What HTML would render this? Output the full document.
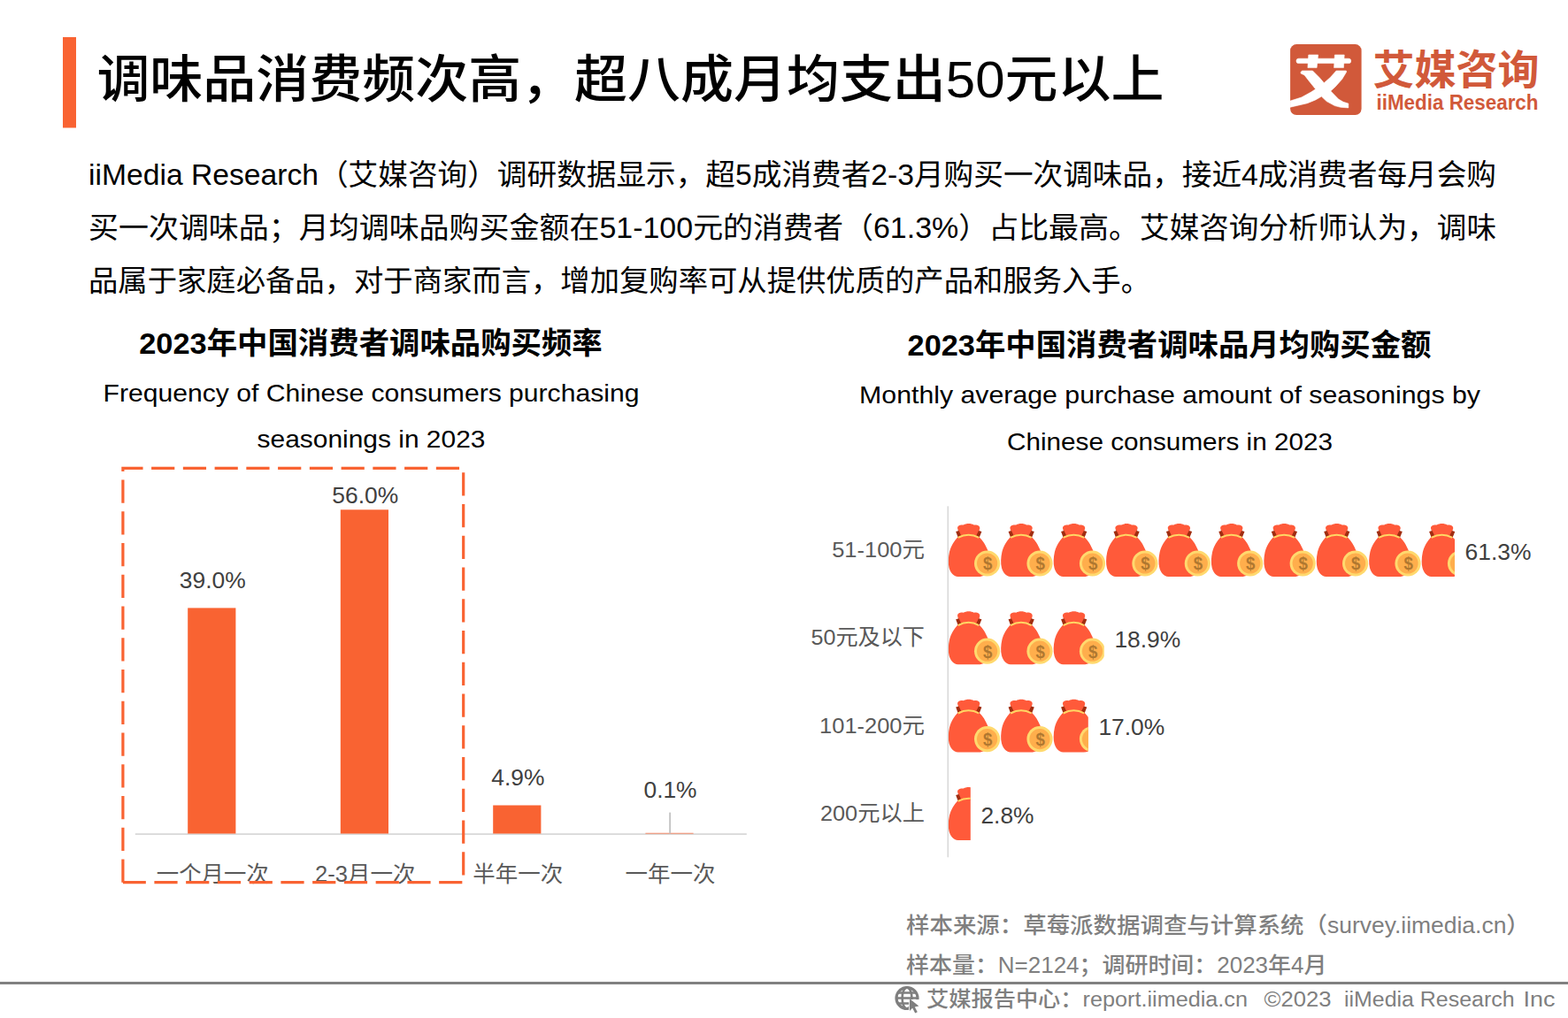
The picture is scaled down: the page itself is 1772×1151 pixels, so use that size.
<!DOCTYPE html>
<html lang="zh-CN"><head><meta charset="utf-8"><title>调味品消费频次高，超八成月均支出50元以上</title>
<style>
html,body{margin:0;padding:0;background:#fff}
body{width:1772px;height:1151px;position:relative;overflow:hidden;font-family:"Liberation Sans",sans-serif}
.t{position:absolute;margin:0;padding:0;white-space:nowrap;color:transparent;font-weight:normal;overflow:hidden;z-index:2}
svg text{font-family:"Liberation Sans","Noto Sans CJK SC",sans-serif}
</style></head><body>
<svg width="1772" height="1151" viewBox="0 0 1772 1151" style="position:absolute;left:0;top:0"><defs><g id="bag">
<path d="M10.3,5.2C9.9,2.4 13.8,0.8 17.1,1.6C19.8,-0.4 26.1,-0.4 28.7,1.6C31.9,0.8 35.9,2.4 35.5,5.2C35.2,8 33.3,10 32.9,14.5L13.1,14.5C12.6,10 10.6,8 10.3,5.2Z" fill="#FF5A3A"/>
<path d="M8.4,9 L11.8,8 L14.6,14 L10.8,15.6Z M37.6,9 L34.2,8 L31.2,14 L35,15.6Z" fill="#A02D10"/>
<path d="M22.8,12.2C28,12.2 32,12.8 34.8,15.2C38.6,18.6 42.2,24.5 44.4,30C46.6,36 47.5,46 45.6,52C43.8,57.6 39,60 34,60L10.8,60C5.6,59.6 2,55 0.8,50C-0.5,45 -0.2,38 1.2,32C2.8,25.5 6.6,19.4 10.6,15.2C13.4,12.8 17.4,12.2 22.8,12.2Z" fill="#FF5A3A"/>
<path d="M10.9,15.9Q22.8,9.4 34.5,15.9" fill="none" stroke="#FFD764" stroke-width="2"/>
<circle cx="43.8" cy="45" r="14.6" fill="#FFD96E"/>
<circle cx="43.8" cy="45" r="11.6" fill="#FFAE4C"/>
<text x="39.2" y="52.4" font-size="20" font-weight="bold" fill="#B07830" textLength="10.4" lengthAdjust="spacingAndGlyphs">$</text>
</g></defs><rect x="71" y="42" width="15" height="102.5" fill="#F96332"/><rect x="1458.1" y="50.1" width="80.5" height="79.9" rx="7" fill="#D1593A"/><g transform="translate(1458.1 50.1)" fill="#fff" stroke="#fff" stroke-width="0.6" stroke-linejoin="round">
<rect x="6.9" y="16.1" width="61.7" height="5.4" rx="2.6"/>
<path d="M20.7,11.9H31.5L30,26.5H19.8Z M50.3,11.9H61.1L60.3,26.5H49.5Z"/>
<path d="M11.9,31.3L13.6,29.9L25.3,29.9L32.8,37.4L38.2,43.6L45.3,37.4L52,29.9L63.2,29.9L63.6,31.1L58.6,39.4L51.1,47.8L45.7,52.8L54.5,62L60,65.2L65.7,67L65.7,71.8L57,71.2L50.3,69.5L41.1,64.5L35.3,59L28.6,62.8L19.4,66.6L0,71.1L0,64L12.8,59.9L23.6,54L28.6,50.7L20.3,40.3L16.1,34.9L11.9,32.8Z"/>
</g><rect x="152.8" y="942.2" width="691" height="1.8" fill="#D9D9D9"/><rect x="212.2" y="687.4" width="54.2" height="255.1" fill="#F96332"/><rect x="384.8" y="576.3" width="54.2" height="366.2" fill="#F96332"/><rect x="557.2" y="910.5" width="54.2" height="32.0" fill="#F96332"/><rect x="729.4" y="941.8" width="54.2" height="0.7" fill="#F96332"/><rect x="756.2" y="918.6" width="1.9" height="23.8" fill="#C4C4C4"/><rect x="1070.5" y="572.3" width="1.6" height="397" fill="#D9D9D9"/><rect x="0" y="1110" width="1772" height="3" fill="#808080"/><clipPath id="c0"><rect x="1071.8" y="591.0" width="572.2" height="62"/></clipPath><g clip-path="url(#c0)"><use href="#bag" x="1071.8" y="592.0"/><use href="#bag" x="1131.2" y="592.0"/><use href="#bag" x="1190.7" y="592.0"/><use href="#bag" x="1250.1" y="592.0"/><use href="#bag" x="1309.5" y="592.0"/><use href="#bag" x="1368.9" y="592.0"/><use href="#bag" x="1428.4" y="592.0"/><use href="#bag" x="1487.8" y="592.0"/><use href="#bag" x="1547.2" y="592.0"/><use href="#bag" x="1606.7" y="592.0"/></g><clipPath id="c1"><rect x="1071.8" y="690.2" width="176.0" height="62"/></clipPath><g clip-path="url(#c1)"><use href="#bag" x="1071.8" y="691.2"/><use href="#bag" x="1131.2" y="691.2"/><use href="#bag" x="1190.7" y="691.2"/></g><clipPath id="c2"><rect x="1071.8" y="789.6" width="158.0" height="62"/></clipPath><g clip-path="url(#c2)"><use href="#bag" x="1071.8" y="790.6"/><use href="#bag" x="1131.2" y="790.6"/><use href="#bag" x="1190.7" y="790.6"/></g><clipPath id="c3"><rect x="1071.8" y="889.0" width="25.0" height="62"/></clipPath><g clip-path="url(#c3)"><use href="#bag" x="1071.8" y="890.0"/></g>
<text x="109.4" y="110" font-size="58" font-weight="500" fill="#000" textLength="1206" lengthAdjust="spacingAndGlyphs">调味品消费频次高，超八成月均支出50元以上</text>
<text x="1551.4" y="95.2" font-size="46" font-weight="bold" fill="#D1593A" textLength="188" lengthAdjust="spacingAndGlyphs">艾媒咨询</text>
<text x="1555.5" y="123.5" font-size="23.5" font-weight="bold" fill="#D1593A" textLength="183" lengthAdjust="spacingAndGlyphs">iiMedia Research</text>
<text x="100" y="209" font-size="33" fill="#000" textLength="1591" lengthAdjust="spacingAndGlyphs">iiMedia Research（艾媒咨询）调研数据显示，超5成消费者2-3月购买一次调味品，接近4成消费者每月会购</text>
<text x="100" y="269" font-size="33" fill="#000" textLength="1187" lengthAdjust="spacingAndGlyphs">买一次调味品；月均调味品购买金额在51-100元的消费者（61.3%）占比最高。</text>
<text x="1288.1" y="269" font-size="33" fill="#000" textLength="402.9" lengthAdjust="spacingAndGlyphs">艾媒咨询分析师认为，调味</text>
<text x="100" y="329" font-size="33" fill="#000" textLength="1200" lengthAdjust="spacingAndGlyphs">品属于家庭必备品，对于商家而言，增加复购率可从提供优质的产品和服务入手。</text>
<text x="157.24" y="400" font-size="34" font-weight="bold" fill="#000" textLength="523.5" lengthAdjust="spacingAndGlyphs">2023年中国消费者调味品购买频率</text>
<text x="116.6" y="454" font-size="28.5" fill="#000" textLength="605.8" lengthAdjust="spacingAndGlyphs">Frequency of Chinese consumers purchasing</text>
<text x="290.56" y="506" font-size="28.5" fill="#000" textLength="257.9" lengthAdjust="spacingAndGlyphs">seasonings in 2023</text>
<text x="176.8" y="997" font-size="25" fill="#595959" textLength="127" lengthAdjust="spacingAndGlyphs">一个月一次</text>
<text x="356.03" y="997" font-size="25" fill="#595959" textLength="113.6" lengthAdjust="spacingAndGlyphs">2-3月一次</text>
<text x="534.35" y="997" font-size="25" fill="#595959" textLength="102" lengthAdjust="spacingAndGlyphs">半年一次</text>
<text x="706.5" y="997" font-size="25" fill="#595959" textLength="102" lengthAdjust="spacingAndGlyphs">一年一次</text>
<text x="202.84" y="665" font-size="26" fill="#404040" textLength="74.9" lengthAdjust="spacingAndGlyphs">39.0%</text>
<text x="375.39" y="569" font-size="26" fill="#404040" textLength="74.9" lengthAdjust="spacingAndGlyphs">56.0%</text>
<text x="555.32" y="888" font-size="26" fill="#404040" textLength="60.1" lengthAdjust="spacingAndGlyphs">4.9%</text>
<text x="727.47" y="902" font-size="26" fill="#404040" textLength="60.1" lengthAdjust="spacingAndGlyphs">0.1%</text>
<text x="1025.54" y="402" font-size="34" font-weight="bold" fill="#000" textLength="591.9" lengthAdjust="spacingAndGlyphs">2023年中国消费者调味品月均购买金额</text>
<text x="971.12" y="456" font-size="28.5" fill="#000" textLength="701.8" lengthAdjust="spacingAndGlyphs">Monthly average purchase amount of seasonings by</text>
<text x="1138.01" y="509" font-size="28.5" fill="#000" textLength="368" lengthAdjust="spacingAndGlyphs">Chinese consumers in 2023</text>
<text x="940.16" y="629.9" font-size="24.5" fill="#595959" textLength="104.8" lengthAdjust="spacingAndGlyphs">51-100元</text>
<text x="1655.6" y="632.5" font-size="26" fill="#404040" textLength="74.9" lengthAdjust="spacingAndGlyphs">61.3%</text>
<text x="916.47" y="729.3" font-size="24.5" fill="#595959" textLength="128.5" lengthAdjust="spacingAndGlyphs">50元及以下</text>
<text x="1259.4" y="731.7" font-size="26" fill="#404040" textLength="74.9" lengthAdjust="spacingAndGlyphs">18.9%</text>
<text x="926.09" y="828.7" font-size="24.5" fill="#595959" textLength="118.9" lengthAdjust="spacingAndGlyphs">101-200元</text>
<text x="1241.4" y="831.1" font-size="26" fill="#404040" textLength="74.9" lengthAdjust="spacingAndGlyphs">17.0%</text>
<text x="927" y="928.1" font-size="24.5" fill="#595959" textLength="118" lengthAdjust="spacingAndGlyphs">200元以上</text>
<text x="1108.4" y="930.5" font-size="26" fill="#404040" textLength="60.1" lengthAdjust="spacingAndGlyphs">2.8%</text>
<text x="1024" y="1054.5" font-size="25.5" font-weight="500" fill="#7F7F7F" textLength="704.8" lengthAdjust="spacingAndGlyphs">样本来源：草莓派数据调查与计算系统（survey.iimedia.cn）</text>
<text x="1024" y="1100.2" font-size="25.5" font-weight="500" fill="#7F7F7F" textLength="475.4" lengthAdjust="spacingAndGlyphs">样本量：N=2124；调研时间：2023年4月</text>
<text x="1047" y="1137.8" font-size="23.5" font-weight="500" fill="#7F7F7F" textLength="363" lengthAdjust="spacingAndGlyphs">艾媒报告中心：report.iimedia.cn</text>
<text x="1428.6" y="1137.8" font-size="23.5" font-weight="500" fill="#7F7F7F" textLength="76" lengthAdjust="spacingAndGlyphs">©2023</text>
<text x="1519" y="1137.8" font-size="23.5" font-weight="500" fill="#7F7F7F" textLength="192.5" lengthAdjust="spacingAndGlyphs">iiMedia Research</text>
<text x="1721.5" y="1137.8" font-size="23.5" font-weight="500" fill="#7F7F7F" textLength="35.9" lengthAdjust="spacingAndGlyphs">Inc</text>
<path d="M138.9,997.7V529.4H523.7V997.7H138.9" fill="none" stroke="#F96332" stroke-width="3.2" stroke-dasharray="26.2 9.55"/><g transform="translate(1025 1128.5)" fill="none" stroke="#7F7F7F" stroke-width="3.2">
<circle r="12"/><ellipse rx="5.4" ry="12" stroke-width="2.6"/><path d="M-12,0H12M-10.6,-6H10.6M-10.6,6H10.6" stroke-width="2.4"/>
<path d="M2.2,1.6H16V17H2.2Z" fill="#fff" stroke="none"/>
<path d="M3,0.8 L13.4,9 L8.8,10 L11.8,15.8 L9.2,17.1 L6.2,11.2 L3,14.4Z" fill="#7F7F7F" stroke="none"/>
</g></svg>
<h1 class="t " style="left:109.4px;top:57.4px;width:1206.4px;font-size:51.4px;line-height:65.8px">调味品消费频次高，超八成月均支出50元以上</h1>
<span class="t" style="left:1462px;top:56px;font-size:60px;line-height:66px">艾</span>
<div class="t " style="left:1551.4px;top:54.1px;width:188.8px;font-size:40.2px;line-height:51.4px">艾媒咨询</div>
<div class="t " style="left:1555.5px;top:102.6px;width:183.0px;font-size:20.5px;line-height:26.2px">iiMedia Research</div>
<p class="t " style="left:100.0px;top:179.7px;width:1591.0px;font-size:28.6px;line-height:36.6px">iiMedia Research（艾媒咨询）调研数据显示，超5成消费者2-3月购买一次调味品，接近4成消费者每月会购</p>
<p class="t " style="left:100.0px;top:239.7px;width:1187.2px;font-size:28.6px;line-height:36.6px">买一次调味品；月均调味品购买金额在51-100元的消费者（61.3%）占比最高。</p>
<p class="t " style="left:1288.1px;top:239.7px;width:402.9px;font-size:28.6px;line-height:36.6px">艾媒咨询分析师认为，调味</p>
<p class="t " style="left:100.0px;top:299.7px;width:1200.1px;font-size:28.6px;line-height:36.6px">品属于家庭必备品，对于商家而言，增加复购率可从提供优质的产品和服务入手。</p>
<h2 class="t " style="left:157.2px;top:369.9px;width:523.5px;font-size:29.4px;line-height:37.6px">2023年中国消费者调味品购买频率</h2>
<div class="t " style="left:116.6px;top:428.6px;width:605.8px;font-size:24.9px;line-height:31.8px">Frequency of Chinese consumers purchasing</div>
<div class="t " style="left:290.6px;top:480.6px;width:257.9px;font-size:24.9px;line-height:31.8px">seasonings in 2023</div>
<div class="t " style="left:176.8px;top:975.0px;width:127.0px;font-size:21.5px;line-height:27.5px">一个月一次</div>
<div class="t " style="left:356.0px;top:975.0px;width:113.6px;font-size:21.5px;line-height:27.5px">2-3月一次</div>
<div class="t " style="left:534.4px;top:975.0px;width:102.0px;font-size:21.5px;line-height:27.5px">半年一次</div>
<div class="t " style="left:706.5px;top:975.0px;width:102.0px;font-size:21.5px;line-height:27.5px">一年一次</div>
<div class="t " style="left:202.8px;top:642.1px;width:74.9px;font-size:22.4px;line-height:28.6px">39.0%</div>
<div class="t " style="left:375.4px;top:546.1px;width:74.9px;font-size:22.4px;line-height:28.6px">56.0%</div>
<div class="t " style="left:555.3px;top:865.1px;width:60.1px;font-size:22.4px;line-height:28.6px">4.9%</div>
<div class="t " style="left:727.5px;top:879.1px;width:60.1px;font-size:22.4px;line-height:28.6px">0.1%</div>
<h2 class="t " style="left:1025.5px;top:371.9px;width:591.9px;font-size:29.4px;line-height:37.6px">2023年中国消费者调味品月均购买金额</h2>
<div class="t " style="left:971.1px;top:430.5px;width:701.8px;font-size:24.9px;line-height:31.9px">Monthly average purchase amount of seasonings by</div>
<div class="t " style="left:1138.0px;top:483.5px;width:368.0px;font-size:24.9px;line-height:31.9px">Chinese consumers in 2023</div>
<div class="t " style="left:940.2px;top:608.3px;width:104.8px;font-size:21.2px;line-height:27.1px">51-100元</div>
<div class="t " style="left:1655.6px;top:609.6px;width:74.9px;font-size:22.4px;line-height:28.6px">61.3%</div>
<div class="t " style="left:916.5px;top:707.7px;width:128.5px;font-size:21.2px;line-height:27.1px">50元及以下</div>
<div class="t " style="left:1259.4px;top:708.8px;width:74.9px;font-size:22.4px;line-height:28.6px">18.9%</div>
<div class="t " style="left:926.1px;top:807.1px;width:118.9px;font-size:21.2px;line-height:27.1px">101-200元</div>
<div class="t " style="left:1241.4px;top:808.2px;width:74.9px;font-size:22.4px;line-height:28.6px">17.0%</div>
<div class="t " style="left:927.0px;top:906.5px;width:118.0px;font-size:21.2px;line-height:27.1px">200元以上</div>
<div class="t " style="left:1108.4px;top:907.6px;width:60.1px;font-size:22.4px;line-height:28.6px">2.8%</div>
<div class="t " style="left:1024.0px;top:1032.0px;width:704.8px;font-size:22.0px;line-height:28.2px">样本来源：草莓派数据调查与计算系统（survey.iimedia.cn）</div>
<div class="t " style="left:1024.0px;top:1077.7px;width:475.4px;font-size:22.0px;line-height:28.2px">样本量：N=2124；调研时间：2023年4月</div>
<div class="t " style="left:1047.0px;top:1117.0px;width:363.0px;font-size:20.3px;line-height:26.0px">艾媒报告中心：report.iimedia.cn</div>
<div class="t " style="left:1428.6px;top:1117.0px;width:76.0px;font-size:20.3px;line-height:26.0px">©2023</div>
<div class="t " style="left:1519.0px;top:1117.0px;width:192.5px;font-size:20.3px;line-height:26.0px">iiMedia Research</div>
<div class="t " style="left:1721.5px;top:1117.0px;width:35.9px;font-size:20.3px;line-height:26.0px">Inc</div>
</body></html>
